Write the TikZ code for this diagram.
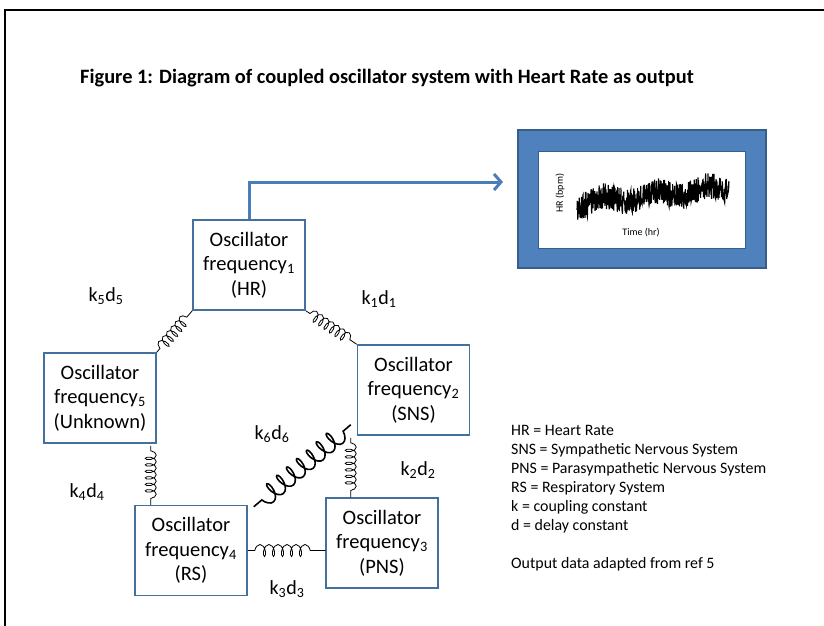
\documentclass[tikz,border=0pt]{standalone}
\usepackage{fontspec}
\setmainfont{Carlito}
\usepackage{tikz}
\usetikzlibrary{arrows.meta,decorations.pathmorphing}
\definecolor{boxblue}{HTML}{41719C}
\definecolor{plotblue}{HTML}{4F81BD}
\definecolor{plotedge}{HTML}{385D8A}
\definecolor{arrowblue}{HTML}{4A7EBB}

\begin{document}
\begin{tikzpicture}[x=1pt,y=-1pt,
  osc/.style={draw=boxblue, line width=1.5pt, fill=white, minimum width=112pt,
    minimum height=90pt, inner sep=0pt, align=center,
    font=\fontsize{20.5}{24.5}\selectfont},
  spring/.style={decorate, line width=0.8pt, decoration={coil, amplitude=5.5pt,
    segment length=6.5pt, pre length=5pt, post length=5pt}},
  klabel/.style={font=\fontsize{20}{24}\selectfont}]
\useasboundingbox (0,0) rectangle (824,626);
\draw[line width=1.5pt] (824,10) -- (5,10) -- (5,626);
\node[font=\bfseries\fontsize{20.4}{24}\selectfont] (title) at (387,78)
  {Figure 1: Diagram of coupled oscillator system with Heart Rate as output};

% output plot
\node[draw=plotedge, fill=plotblue, line width=1.5pt, minimum width=248pt,
  minimum height=138pt] (plot) at (642,199) {};
\node[draw=plotedge, fill=white, line width=0.8pt, minimum width=207pt,
  minimum height=97pt] (screen) at (641.5,199.5) {};
\pgfmathsetseed{7}
\draw[line width=1.1pt] plot[samples=600, domain=577:729]
  (\x, {203-0.1*(\x-577)+4*sin(7*\x)+13*rand});
\node[rotate=90, font=\fontsize{10}{12}\selectfont] (hr) at (560,193) {HR (bpm)};
\node[font=\fontsize{10}{12}\selectfont] (time) at (641,233) {Time (hr)};

% oscillators
\node[osc] (osc1) at (249,265) {Oscillator\\frequency\textsubscript{1}\\(HR)};
\node[osc] (osc2) at (413.5,390) {Oscillator\\frequency\textsubscript{2}\\(SNS)};
\node[osc] (osc3) at (382,543) {Oscillator\\frequency\textsubscript{3}\\(PNS)};
\node[osc] (osc4) at (191,550.5) {Oscillator\\frequency\textsubscript{4}\\(RS)};
\node[osc] (osc5) at (100,398) {Oscillator\\frequency\textsubscript{5}\\(Unknown)};

\coordinate (tip) at (503,182);
\draw[arrowblue, line width=3pt, -{Straight Barb[length=7pt,width=16pt]}]
  (osc1.north) |- (tip);

% couplings
\draw[spring] (osc1.south east) -- (osc2.north west);
\draw[spring] ([shift={(-6,2)}]osc2.south west) -- ([shift={(-6,0)}]osc2.south west |- osc3.north);
\draw[spring, decoration={segment length=9pt, amplitude=6pt, pre length=7pt, post length=7pt}]
  (osc4.east) -- (osc4.east -| osc3.west);
\draw[spring] ([shift={(-6,2)}]osc5.south east) -- ([shift={(-6,0)}]osc5.south east |- osc4.north);
\draw[spring] (osc5.north east) -- (osc1.south west);
\draw[spring, line width=1.6pt, decoration={segment length=13pt, amplitude=9pt,
  pre length=10pt, post length=10pt}]
  ([shift={(-6,-11)}]osc2.south west) -- ([shift={(6,2)}]osc4.north east);

\node[klabel] (k1) at (379,299) {k\textsubscript{1}d\textsubscript{1}};
\node[klabel] (k2) at (418,470) {k\textsubscript{2}d\textsubscript{2}};
\node[klabel] (k3) at (287,589) {k\textsubscript{3}d\textsubscript{3}};
\node[klabel] (k4) at (87,492) {k\textsubscript{4}d\textsubscript{4}};
\node[klabel] (k5) at (106,296) {k\textsubscript{5}d\textsubscript{5}};
\node[klabel] (k6) at (272,434) {k\textsubscript{6}d\textsubscript{6}};

% legend
\node[anchor=north west, align=left, inner sep=0pt,
  font=\fontsize{15.9}{19}\selectfont] (legend) at (511,425)
  {HR = Heart Rate\\SNS = Sympathetic Nervous System\\
   PNS = Parasympathetic Nervous System\\RS = Respiratory System\\
   k = coupling constant\\d = delay constant\\[19pt]
   Output data adapted from ref 5};
\end{tikzpicture}
\end{document}
